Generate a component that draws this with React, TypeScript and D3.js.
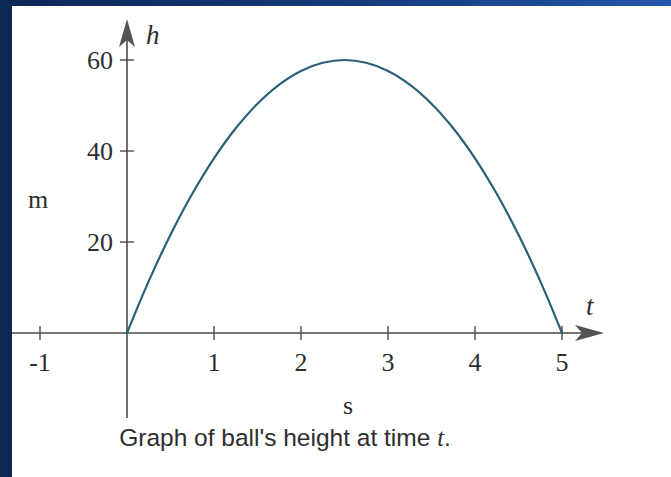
import React from "react";
import * as d3 from "d3";

// Height of the ball h (m) sampled at times t (s)
const times = [0, 0.25, 0.5, 0.75, 1, 1.25, 1.5, 1.75, 2, 2.25, 2.5, 2.75, 3, 3.25, 3.5, 3.75, 4, 4.25, 4.5, 4.75, 5];
const heights = [0, 11.4, 21.6, 30.6, 38.4, 45, 50.4, 54.6, 57.6, 59.4, 60, 59.4, 57.6, 54.6, 50.4, 45, 38.4, 30.6, 21.6, 11.4, 0];

const xTicks = [-1, 1, 2, 3, 4, 5];
const yTicks = [20, 40, 60];

const W = 671;
const H = 477;

export default function App() {
  const x = d3.scaleLinear().domain([0, 5]).range([127, 562]);
  const y = d3.scaleLinear().domain([0, 60]).range([333, 60]);

  const pts: [number, number][] = times.map((t, i) => [t, heights[i]]);
  const line = d3
    .line<[number, number]>()
    .x((d) => x(d[0]))
    .y((d) => y(d[1]))
    .curve(d3.curveCatmullRom);

  const axisColor = "#4a4a4a";
  const serif = "'Liberation Serif', 'DejaVu Serif', serif";
  const x0 = x(0);
  const y0 = y(0);

  return (
    <svg
      width={W}
      height={H}
      style={{ position: "absolute", left: 0, top: 0 }}
      xmlns="http://www.w3.org/2000/svg"
    >
      <defs>
        <linearGradient id="frame" x1="0" y1="0" x2="1" y2="0">
          <stop offset="0" stopColor="#0c2755" />
          <stop offset="0.6" stopColor="#173e82" />
          <stop offset="1" stopColor="#2456aa" />
        </linearGradient>
      </defs>
      <rect x={0} y={0} width={W} height={H} fill="url(#frame)" />
      <rect x={12} y={6} width={W - 12} height={H - 6} fill="#ffffff" />

      {/* x axis with arrow */}
      <line x1={12} x2={585} y1={y0} y2={y0} stroke={axisColor} strokeWidth={1.6} />
      <path
        d={`M ${604} ${y0} L ${575} ${y0 - 8} L ${582} ${y0} L ${575} ${y0 + 8} Z`}
        fill="#555"
      />
      {/* y axis with arrow */}
      <line x1={x0} x2={x0} y1={418} y2={38} stroke={axisColor} strokeWidth={1.6} />
      <path
        d={`M ${x0} ${19} L ${x0 - 8} ${47} L ${x0} ${40} L ${x0 + 8} ${47} Z`}
        fill="#555"
      />

      {/* x ticks */}
      {xTicks.map((t) => (
        <g key={`xt${t}`}>
          <line x1={x(t)} x2={x(t)} y1={y0 - 7} y2={y0 + 7} stroke={axisColor} strokeWidth={1.4} />
          <text
            x={x(t)}
            y={y0 + 38}
            textAnchor="middle"
            fontFamily={serif}
            fontSize={26}
            fill="#2e2e2e"
          >
            {t}
          </text>
        </g>
      ))}

      {/* y ticks */}
      {yTicks.map((v) => (
        <g key={`yt${v}`}>
          <line x1={x0 - 7} x2={x0 + 7} y1={y(v)} y2={y(v)} stroke={axisColor} strokeWidth={1.4} />
          <text
            x={x0 - 14}
            y={y(v) + 9}
            textAnchor="end"
            fontFamily={serif}
            fontSize={26}
            fill="#2e2e2e"
          >
            {v}
          </text>
        </g>
      ))}

      {/* curve */}
      <path d={line(pts) ?? ""} fill="none" stroke="#2b6178" strokeWidth={2.2} />

      {/* axis names and units */}
      <text x={146} y={44} fontFamily={serif} fontStyle="italic" fontSize={27} fill="#2e2e2e">
        h
      </text>
      <text x={586} y={315} fontFamily={serif} fontStyle="italic" fontSize={27} fill="#2e2e2e">
        t
      </text>
      <text x={38} y={208} textAnchor="middle" fontFamily={serif} fontSize={26} fill="#2e2e2e">
        m
      </text>
      <text x={348} y={414} textAnchor="middle" fontFamily={serif} fontSize={26} fill="#2e2e2e">
        s
      </text>

      {/* caption */}
      <text
        x={285}
        y={446}
        textAnchor="middle"
        fontFamily="'Liberation Sans', Arial, sans-serif"
        fontSize={24.5}
        fill="#2e2e2e"
      >
        Graph of ball's height at time{" "}
        <tspan fontFamily={serif} fontStyle="italic">
          t
        </tspan>
        .
      </text>
    </svg>
  );
}
